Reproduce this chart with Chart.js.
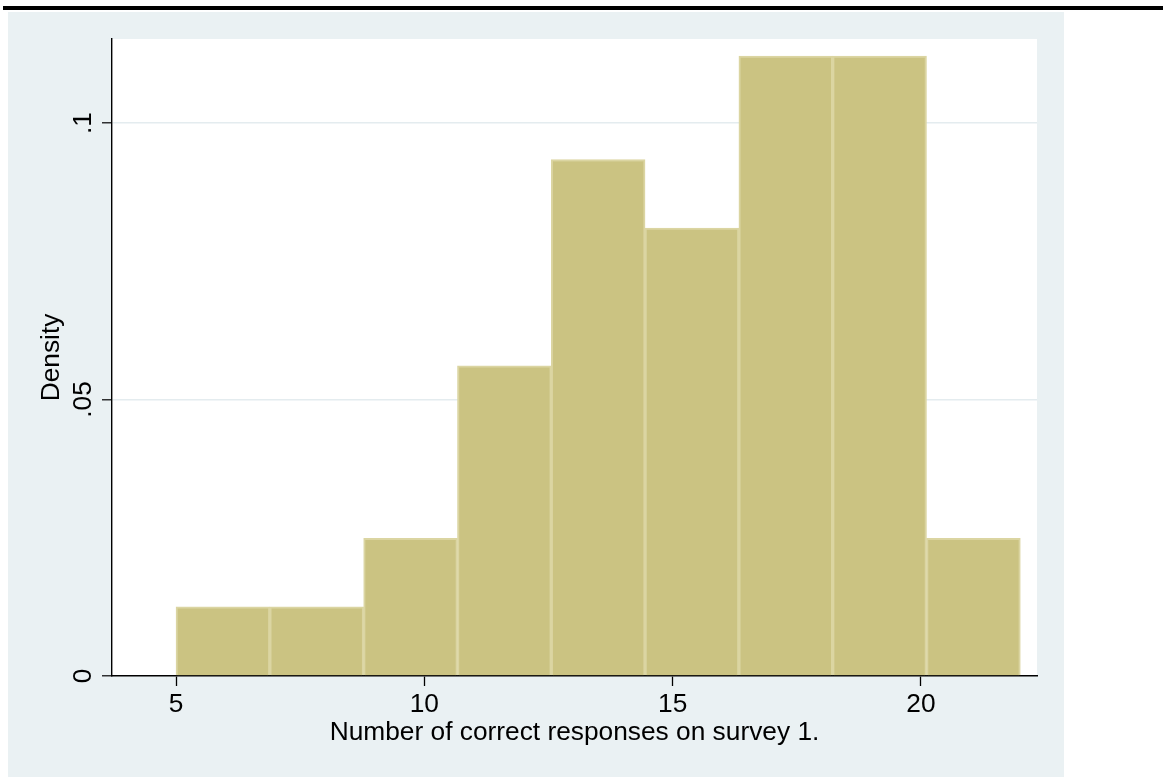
<!DOCTYPE html>
<html>
<head>
<meta charset="utf-8">
<title>Histogram of correct responses</title>
<script src="https://cdn.jsdelivr.net/npm/chart.js@4/dist/chart.umd.min.js"></script>
<style>
  html, body { margin: 0; padding: 0; background: #ffffff; }
  #wrap { position: absolute; left: 0; top: 0; width: 1163px; height: 777px; }
  canvas { display: block; }
</style>
</head>
<body>
<div id="wrap"><canvas id="hist" width="1163" height="777"></canvas></div>
<script>
// Histogram bins (edges) and the density of each bin
const binEdges = [5, 6.889, 8.778, 10.667, 12.556, 14.444, 16.333, 18.222, 20.111, 22];
const densities = [0.0125, 0.0125, 0.0249, 0.0561, 0.0934, 0.0810, 0.1121, 0.1121, 0.0249];

// Axis ticks and labels
const xTicks = [5, 10, 15, 20];
const yTicks = [0, 0.05, 0.1];
const yTickLabels = ['0', '.05', '.1'];
const xTitle = 'Number of correct responses on survey 1.';
const yTitle = 'Density';

const FONT = '"Liberation Sans", Arial, Helvetica, sans-serif';
const FONT_SIZE = 26.3;
const BG_OUTER = '#eaf1f3';
const GRID = '#e4ecef';

// one bar per bin, centred in it
const barPoints = densities.map((d, i) => ({
  x: (binEdges[i] + binEdges[i + 1]) / 2,
  y: d
}));

// page frame: top rule, tinted graph region, white plot region
const framePlugin = {
  id: 'frame',
  beforeDraw(chart) {
    const { ctx, chartArea: a } = chart;
    ctx.save();
    ctx.fillStyle = '#ffffff';
    ctx.fillRect(0, 0, chart.width, chart.height);
    ctx.fillStyle = '#000000';
    ctx.fillRect(3, 6, chart.width - 3, 4);
    ctx.fillStyle = BG_OUTER;
    ctx.fillRect(8, 12, 1056, chart.height - 12);
    ctx.fillStyle = '#ffffff';
    ctx.fillRect(a.left, a.top, a.right - a.left, a.bottom - a.top);
    ctx.restore();
  }
};

// y tick labels, written upright along the axis
const yLabelPlugin = {
  id: 'yLabels',
  afterDraw(chart) {
    const { ctx } = chart;
    const ys = chart.scales.y;
    ctx.save();
    ctx.fillStyle = '#000000';
    ctx.font = FONT_SIZE + 'px ' + FONT;
    ctx.textAlign = 'center';
    ctx.textBaseline = 'alphabetic';
    yTicks.forEach((v, i) => {
      const py = ys.getPixelForValue(v);
      ctx.save();
      ctx.translate(ys.right - 21, py);
      ctx.rotate(-Math.PI / 2);
      ctx.fillText(yTickLabels[i], 0, 0);
      ctx.restore();
    });
    ctx.restore();
  }
};

new Chart(document.getElementById('hist'), {
  type: 'bar',
  data: {
    datasets: [{
      data: barPoints,
      backgroundColor: 'rgb(203, 195, 130)',
      borderColor: 'rgb(219, 213, 162)',
      borderWidth: 2,
      barPercentage: 1,
      categoryPercentage: 1
    }]
  },
  options: {
    responsive: false,
    animation: false,
    devicePixelRatio: 1,
    layout: { padding: { left: 0, top: 39, right: 126, bottom: 0 } },
    plugins: {
      legend: { display: false },
      tooltip: { enabled: false }
    },
    scales: {
      x: {
        type: 'linear',
        position: 'bottom',
        offset: false,
        min: 3.7114,
        max: 22.3356,
        z: 1,
        afterFit(scale) { scale.height = 101; },
        afterBuildTicks(scale) { scale.ticks = xTicks.map(v => ({ value: v })); },
        grid: {
          offset: false,
          drawOnChartArea: false,
          drawTicks: true,
          tickLength: 10,
          tickColor: '#000000',
          tickWidth: 1.3
        },
        border: { display: true, color: '#000000', width: 1.6 },
        ticks: {
          autoSkip: false,
          maxRotation: 0,
          padding: 3,
          color: '#000000',
          font: { family: FONT, size: FONT_SIZE, lineHeight: 1.2 },
          callback: v => String(v)
        },
        title: {
          display: true,
          text: xTitle,
          color: '#000000',
          font: { family: FONT, size: FONT_SIZE, lineHeight: 1.2 },
          padding: { top: 0, bottom: 28.2 }
        }
      },
      y: {
        type: 'linear',
        position: 'left',
        min: 0,
        max: 0.1152,
        afterFit(scale) { scale.width = 112; },
        afterBuildTicks(scale) { scale.ticks = yTicks.map(v => ({ value: v })); },
        grid: {
          drawOnChartArea: true,
          drawTicks: true,
          tickLength: 10,
          tickColor: '#000000',
          tickWidth: 1.2,
          lineWidth: 1.6,
          color: ctx => (ctx.tick && ctx.tick.value === 0) ? 'rgba(0,0,0,0)' : GRID
        },
        border: { display: true, color: '#000000', width: 1.4 },
        ticks: { display: false },
        title: {
          display: true,
          text: yTitle,
          color: '#000000',
          font: { family: FONT, size: FONT_SIZE, lineHeight: 1.2 },
          padding: { top: 35.5, bottom: 0 }
        }
      }
    }
  },
  plugins: [framePlugin, yLabelPlugin]
});
</script>
</body>
</html>
